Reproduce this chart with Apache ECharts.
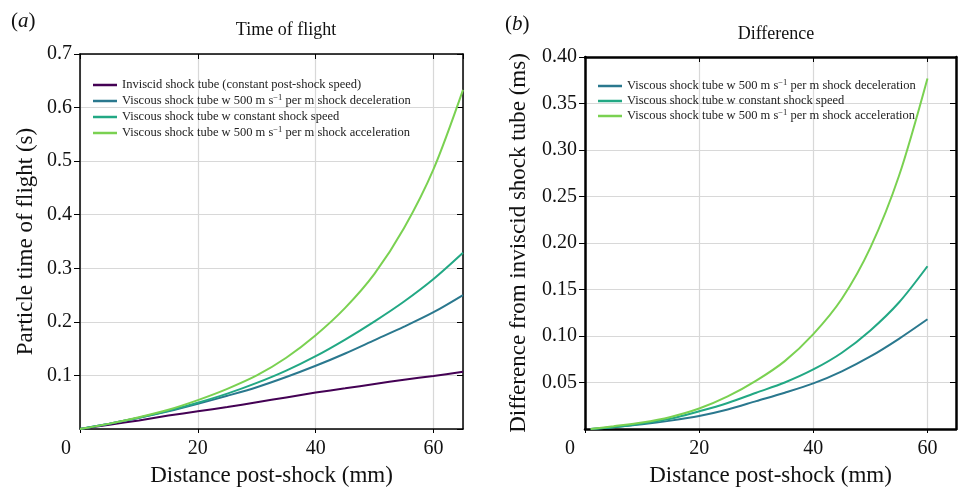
<!DOCTYPE html>
<html>
<head>
<meta charset="utf-8">
<script src="https://cdn.jsdelivr.net/npm/echarts@6/dist/echarts.min.js"></script>
<style>
  html, body { margin: 0; padding: 0; background: #fff; }
  #chart { width: 958px; height: 492px; }
</style>
</head>
<body>
<div id="chart"></div>
<script>
// Panel (a): particle time of flight (s) against distance post-shock (mm)
const distA = [0, 5, 10, 15, 20, 25, 30, 35, 40, 45, 50, 55, 60, 65];
const tofInviscid = [0, 0.008, 0.016, 0.025, 0.033, 0.041, 0.050, 0.059, 0.068, 0.076, 0.084, 0.092, 0.099, 0.107];
const tofDecel    = [0, 0.010, 0.021, 0.033, 0.047, 0.062, 0.078, 0.097, 0.118, 0.141, 0.166, 0.191, 0.218, 0.250];
const tofConst    = [0, 0.010, 0.021, 0.034, 0.049, 0.066, 0.086, 0.109, 0.136, 0.167, 0.201, 0.238, 0.280, 0.329];
const tofAccel    = [0, 0.010, 0.022, 0.036, 0.054, 0.075, 0.100, 0.133, 0.175, 0.226, 0.290, 0.375, 0.485, 0.633];

// Panel (b): difference from the inviscid shock tube (ms)
const distB = [1, 5, 10, 15, 20, 25, 30, 35, 40, 45, 50, 55, 60];
const diffDecel = [0, 0.002, 0.005, 0.009, 0.014, 0.021, 0.030, 0.039, 0.049, 0.062, 0.078, 0.097, 0.118];
const diffConst = [0, 0.002, 0.006, 0.011, 0.019, 0.028, 0.039, 0.050, 0.064, 0.082, 0.106, 0.136, 0.175];
const diffAccel = [0, 0.003, 0.007, 0.013, 0.022, 0.035, 0.052, 0.073, 0.102, 0.140, 0.195, 0.272, 0.377];

const xTicks = [0, 20, 40, 60];

const NAME_INVISCID = 'Inviscid shock tube (constant post-shock speed)';
const NAME_DECEL = 'Viscous shock tube w 500 m s-1 per m shock deceleration';
const NAME_CONST = 'Viscous shock tube w constant shock speed';
const NAME_ACCEL = 'Viscous shock tube w 500 m s-1 per m shock acceleration';

const COLORS = {
  inviscid: '#440154',
  decel: '#2a788e',
  cons: '#22a884',
  accel: '#7ad151'
};

const FONT = "'Liberation Serif', 'DejaVu Serif', serif";

function pairs(xs, ys) { return xs.map((x, i) => [x, ys[i]]); }

function lineSeries(name, xs, ys, color, xi, yi) {
  return {
    name, type: 'line', xAxisIndex: xi, yAxisIndex: yi,
    data: pairs(xs, ys), showSymbol: false, smooth: 0.3,
    lineStyle: { color, width: 2 }, itemStyle: { color },
    clip: true, animation: false
  };
}

function legendFormatter(name) {
  return name.replace('s-1', 's{sup|\u22121}');
}

const legendText = {
  fontFamily: FONT, fontSize: 12.5, color: '#222', lineHeight: 16,
  rich: { sup: { fontFamily: FONT, fontSize: 8.5, padding: [0, 0, 7, 0], color: '#222' } }
};

function bottomAxis(gridIndex, axisW, zeroShift) {
  return {
    type: 'value', gridIndex, position: 'bottom', min: 0, max: 65, interval: 20,
    axisLine: { show: true, onZero: false, lineStyle: { color: '#000', width: axisW } },
    axisTick: { show: true, inside: false, length: 4, lineStyle: { color: '#000', width: 1 } },
    axisLabel: {
      show: true, margin: 10, showMaxLabel: false,
      fontFamily: FONT, fontSize: 20, color: '#111',
      formatter: v => (v === 0 ? '{z|0}' : (xTicks.includes(v) ? String(v) : '')),
      rich: { z: { fontFamily: FONT, fontSize: 20, color: '#111', padding: [0, zeroShift, 0, 0] } }
    },
    splitLine: { show: true, lineStyle: { color: '#d8d8d8', width: 1.2 } },
    name: 'Distance post-shock (mm)', nameLocation: 'middle', nameGap: 35,
    nameTextStyle: { fontFamily: FONT, fontSize: 23, color: '#111' }
  };
}

function topAxis(gridIndex, axisW) {
  return {
    type: 'value', gridIndex, position: 'top', min: 0, max: 65, interval: 20,
    axisLine: { show: true, onZero: false, lineStyle: { color: '#000', width: axisW } },
    axisTick: { show: true, inside: true, length: 5, lineStyle: { color: '#000', width: 1 } },
    axisLabel: { show: false }, splitLine: { show: false }
  };
}

function leftAxis(gridIndex, max, interval, digits, axisW, name, nameGap) {
  return {
    type: 'value', gridIndex, position: 'left', min: 0, max, interval,
    axisLine: { show: true, onZero: false, lineStyle: { color: '#000', width: axisW } },
    axisTick: { show: true, inside: false, length: 6, lineStyle: { color: '#000', width: 1 } },
    axisLabel: {
      show: true, margin: 8, showMinLabel: false,
      fontFamily: FONT, fontSize: 20, color: '#111',
      formatter: v => v.toFixed(digits)
    },
    splitLine: { show: true, lineStyle: { color: '#d8d8d8', width: 1.2 } },
    name, nameLocation: 'middle', nameGap,
    nameTextStyle: { fontFamily: FONT, fontSize: 23, color: '#111' }
  };
}

function rightAxis(gridIndex, max, interval, axisW) {
  return {
    type: 'value', gridIndex, position: 'right', min: 0, max, interval,
    axisLine: { show: true, onZero: false, lineStyle: { color: '#000', width: axisW } },
    axisTick: { show: true, inside: true, length: 6, lineStyle: { color: '#000', width: 1 } },
    axisLabel: { show: false }, splitLine: { show: false }
  };
}

const option = {
  backgroundColor: '#fff',
  animation: false,
  textStyle: { fontFamily: FONT },
  title: [
    { text: 'Time of flight', left: 281, top: 16, textAlign: 'center',
      textStyle: { fontFamily: FONT, fontSize: 18, fontWeight: 'normal', color: '#111' } },
    { text: 'Difference', left: 771, top: 20, textAlign: 'center',
      textStyle: { fontFamily: FONT, fontSize: 18, fontWeight: 'normal', color: '#111' } },
    { text: '({i|a})', left: 6, top: 6,
      textStyle: { fontFamily: FONT, fontSize: 21, fontWeight: 'normal', color: '#111',
        rich: { i: { fontFamily: FONT, fontSize: 21, fontStyle: 'italic', color: '#111' } } } },
    { text: '({i|b})', left: 500, top: 9,
      textStyle: { fontFamily: FONT, fontSize: 21, fontWeight: 'normal', color: '#111',
        rich: { i: { fontFamily: FONT, fontSize: 21, fontStyle: 'italic', color: '#111' } } } }
  ],
  grid: [
    { left: 80, top: 54, width: 383, height: 376.5 },
    { left: 585, top: 57, width: 371, height: 374.5 }
  ],
  legend: [
    {
      data: [NAME_INVISCID, NAME_DECEL, NAME_CONST, NAME_ACCEL],
      orient: 'vertical', left: 88, top: 72, itemGap: 0,
      itemWidth: 24, itemHeight: 2.5, icon: 'rect',
      formatter: legendFormatter, textStyle: legendText,
      selectedMode: false
    },
    {
      data: [NAME_DECEL, NAME_CONST, NAME_ACCEL],
      orient: 'vertical', left: 593, top: 73, itemGap: -1,
      itemWidth: 24, itemHeight: 2.5, icon: 'rect',
      formatter: legendFormatter, textStyle: legendText,
      selectedMode: false
    }
  ],
  xAxis: [
    bottomAxis(0, 1.5, 28),
    topAxis(0, 1.5),
    bottomAxis(1, 2.5, 30),
    topAxis(1, 2.5)
  ],
  yAxis: [
    leftAxis(0, 0.7, 0.1, 1, 1.5, 'Particle time of flight (s)', 43),
    rightAxis(0, 0.7, 0.1, 1.5),
    leftAxis(1, 0.4, 0.05, 2, 2.5, 'Difference from inviscid shock tube (ms)', 55),
    rightAxis(1, 0.4, 0.05, 2.5)
  ],
  series: [
    lineSeries(NAME_INVISCID, distA, tofInviscid, COLORS.inviscid, 0, 0),
    lineSeries(NAME_DECEL, distA, tofDecel, COLORS.decel, 0, 0),
    lineSeries(NAME_CONST, distA, tofConst, COLORS.cons, 0, 0),
    lineSeries(NAME_ACCEL, distA, tofAccel, COLORS.accel, 0, 0),
    lineSeries(NAME_DECEL, distB, diffDecel, COLORS.decel, 2, 2),
    lineSeries(NAME_CONST, distB, diffConst, COLORS.cons, 2, 2),
    lineSeries(NAME_ACCEL, distB, diffAccel, COLORS.accel, 2, 2)
  ]
};

const chart = echarts.init(document.getElementById('chart'), null, { renderer: 'canvas' });
chart.setOption(option);
</script>
</body>
</html>
